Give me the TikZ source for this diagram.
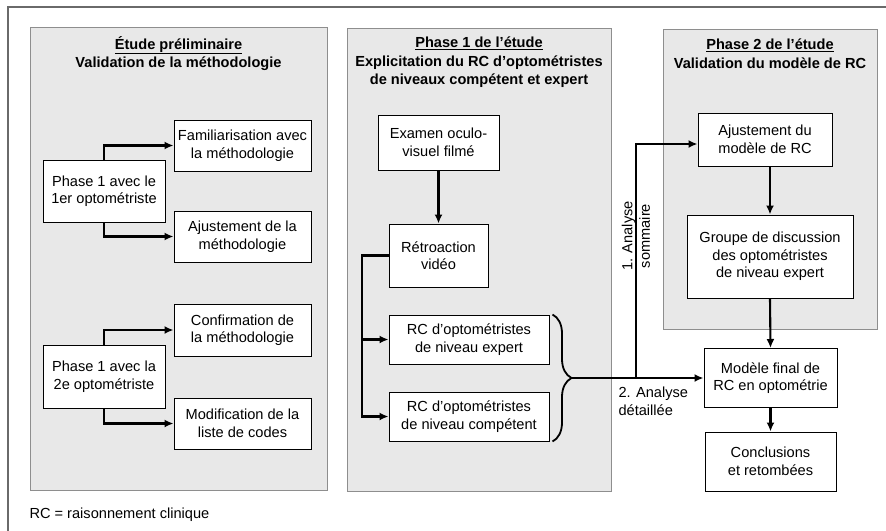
\documentclass[tikz,border=0pt]{standalone}
\usepackage{fontspec}
\setmainfont{Liberation Sans}
\usepackage{tikz}
\usetikzlibrary{calc,arrows.meta,decorations.pathreplacing}
\usepackage{color}
\definecolor{panelgray}{HTML}{E8E8E8}
\definecolor{edgegray}{HTML}{8E8E8E}
\definecolor{framegray}{HTML}{6A6A6A}

\begin{document}
\begin{tikzpicture}[x=1pt,y=-1pt,
  font=\fontsize{14.6}{17.5}\selectfont,
  box/.style={draw,fill=white,line width=1pt,align=center,inner sep=2pt},
  panel/.style={draw=edgegray,fill=panelgray,line width=1pt},
  title/.style={align=center,font=\fontsize{14.6}{18.5}\selectfont\bfseries},
  arr/.style={line width=2.1pt,-{Latex[length=9pt,width=8pt]}},
  bracestyle/.style={line width=1.8pt,decorate,decoration={brace,amplitude=19pt}}]
  \useasboundingbox (0,0) rectangle (886,530);
  \draw[framegray,line width=1.6pt] (8,7) rectangle (905,550);
  % the three panels
  \draw[panel] (30,27) rectangle (327,490);
  \draw[panel] (347,28) rectangle (611,491);
  \draw[panel] (663,29) rectangle (877,329);
  \node (tprel) at (178.5,53.5) [title] {\underline{Étude préliminaire}\\Validation de la méthodologie};
  \node (tph1) at (479,62.5) [title] {\underline{Phase 1 de l’étude}\\Explicitation du RC d’optométristes\\de niveaux compétent et expert};
  \node (tph2) at (770,53.5) [title] {\underline{Phase 2 de l’étude}\\Validation du modèle de RC};
  % etude preliminaire
  \node (p1a) at (104,191) [box,minimum width=122,minimum height=62] {Phase 1 avec le\\1er optométriste};
  \node (fam) at (242.5,145.5) [box,minimum width=137,minimum height=51] {Familiarisation avec\\la méthodologie};
  \node (ajm) at (242.5,236.5) [box,minimum width=137,minimum height=51] {Ajustement de la\\méthodologie};
  \node (p1b) at (104,376.5) [box,minimum width=122,minimum height=63] {Phase 1 avec la\\2e optométriste};
  \node (conf) at (242.5,330) [box,minimum width=137,minimum height=52] {Confirmation de\\la méthodologie};
  \node (modif) at (242.5,423.5) [box,minimum width=137,minimum height=51] {Modification de la\\liste de codes};
  \draw[arr] (p1a.north) |- (fam.west);
  \draw[arr] (p1a.south) |- (ajm.west);
  \draw[arr] (p1b.north) |- (conf.west);
  \draw[arr] (p1b.south) |- (modif.west);
  % phase 1
  \node (exam) at (438.5,142.5) [box,minimum width=121,minimum height=55] {Examen oculo-\\visuel filmé};
  \node (retro) at (438.5,255.5) [box,minimum width=99,minimum height=63] {Rétroaction\\vidéo};
  \node (exp) at (469,339.5) [box,minimum width=160,minimum height=49] {RC d’optométristes\\de niveau expert};
  \node (comp) at (469,416.5) [box,minimum width=160,minimum height=49] {RC d’optométristes\\de niveau compétent};
  \coordinate (bus) at (362,0);
  \draw[arr] (exam.south) -- (retro.north);
  \draw[arr] (retro.west) -| (bus |- comp.west) -- (comp.west);
  \draw[arr] (bus |- exp.west) -- (exp.west);
  \draw[bracestyle] ($(exp.north east)+(3,0)$) -- ($(comp.south east)+(3,0)$);
  \coordinate (tip) at ($(exp.north east)!0.5!(comp.south east)+(22,0)$);
  \coordinate (junc) at (636,0 |- tip);
  % phase 2
  \node (ajmod) at (765,139.5) [box,minimum width=134,minimum height=53] {Ajustement du\\modèle de RC};
  \node (groupe) at (770,256.5) [box,minimum width=166,minimum height=83] {Groupe de discussion\\des optométristes\\de niveau expert};
  \node (final) at (770.5,378) [box,minimum width=133,minimum height=59] {Modèle final de\\RC en optométrie};
  \node (concl) at (770.5,461.5) [box,minimum width=131,minimum height=59] {Conclusions\\et retombées};
  \draw[arr] (ajmod.south -| groupe.north) -- (groupe.north);
  \draw[arr] (groupe.south) -- (final.north);
  \draw[arr] (final.south) -- (concl.north);
  \draw[arr] (tip) -- (tip -| final.west);
  \draw[arr] (junc) |- ($(ajmod.west)+(0,4.5)$);
  \node (lab1) at (636,236) [rotate=90,align=center] {1. Analyse\\sommaire};
  \node (lab2) at (615,401.5) [anchor=west,align=left] {2. Analyse\\détaillée};
  \node (note) at (26,515) [anchor=west] {RC = raisonnement clinique};
\end{tikzpicture}
\end{document}
